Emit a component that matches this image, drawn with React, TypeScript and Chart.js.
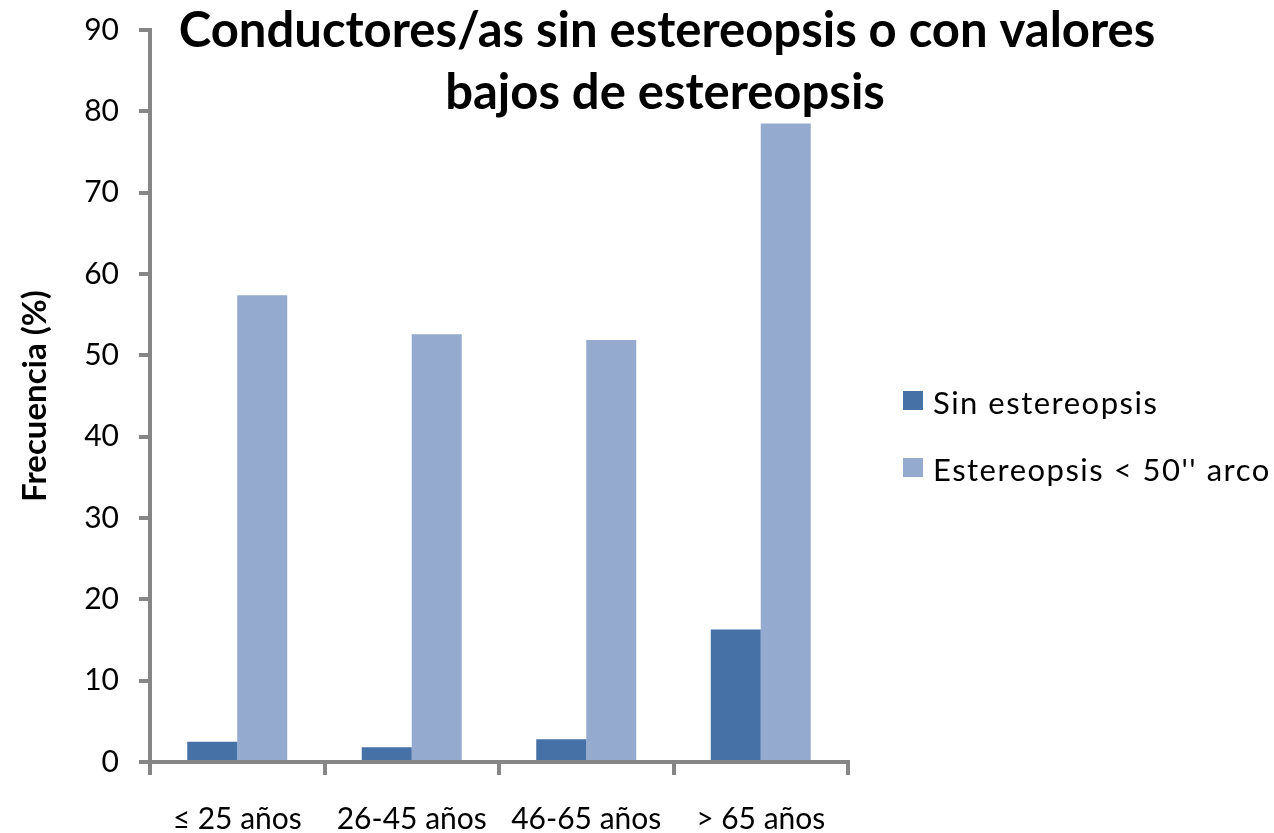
import React, { useEffect, useRef } from "react";
import { Chart, registerables } from "chart.js";

Chart.register(...registerables);

const categories = ["≤ 25 años", "26-45 años", "46-65 años", "> 65 años"];
const sinEstereopsis = [2.5, 1.8, 2.8, 16.3];
const estereopsisBaja = [57.4, 52.6, 51.9, 78.5];
const seriesNames = ["Sin estereopsis", "Estereopsis < 50'' arco"];
const seriesColors = ["#4671A7", "#95AACF"];
const titleLines = ["Conductores/as sin estereopsis o con valores", "bajos de estereopsis"];
const yAxisTitle = "Frecuencia (%)";
const yMin = 0;
const yMax = 90;
const yStep = 10;

const FONT = "Lato";
const AXIS_GREY = "#868686";

const overlayTitle = {
  id: "overlayTitle",
  afterDraw(chart: any) {
    const ctx = chart.ctx;
    ctx.save();
    ctx.font = `bold 49px ${FONT}`;
    ctx.fillStyle = "#000000";
    ctx.textAlign = "center";
    ctx.textBaseline = "alphabetic";
    ctx.fillText(titleLines[0], 667, 47);
    ctx.fillText(titleLines[1], 665, 109);
    ctx.restore();
  },
};

const sideLegend = {
  id: "sideLegend",
  afterDraw(chart: any) {
    const ctx = chart.ctx;
    const area = chart.chartArea;
    const x0 = area.right + 55;
    const rowTops = [391, 458];
    ctx.save();
    ctx.font = `31px ${FONT}`;
    try {
      (ctx as any).letterSpacing = "1.5px";
    } catch (e) {}
    ctx.textAlign = "left";
    ctx.textBaseline = "alphabetic";
    chart.data.datasets.forEach((ds: any, i: number) => {
      const top = rowTops[i];
      ctx.fillStyle = ds.backgroundColor;
      ctx.fillRect(x0, top, 20, 19);
      ctx.fillStyle = "#000000";
      ctx.fillText(ds.label, x0 + 30, top + 23);
    });
    ctx.restore();
  },
};

export default function App() {
  const canvasRef = useRef<HTMLCanvasElement | null>(null);

  useEffect(() => {
    if (!canvasRef.current) return;
    const chart = new Chart(canvasRef.current, {
      type: "bar",
      data: {
        labels: categories,
        datasets: [
          {
            label: seriesNames[0],
            data: sinEstereopsis,
            backgroundColor: seriesColors[0],
            borderWidth: 0,
          },
          {
            label: seriesNames[1],
            data: estereopsisBaja,
            backgroundColor: seriesColors[1],
            borderWidth: 0,
          },
        ],
      },
      options: {
        responsive: false,
        animation: false,
        layout: { padding: { top: 30, left: 0, right: 426, bottom: 0 } },
        datasets: { bar: { categoryPercentage: 0.573, barPercentage: 1 } },
        scales: {
          x: {
            grid: {
              display: true,
              drawOnChartArea: false,
              drawTicks: true,
              tickLength: 13,
              color: AXIS_GREY,
              lineWidth: 4,
              offset: true,
            },
            border: { display: true, color: AXIS_GREY, width: 4 },
            ticks: {
              color: "#000000",
              font: { family: FONT, size: 30 },
              padding: 26,
              maxRotation: 0,
              autoSkip: false,
            },
            afterFit: (s: any) => {
              s.height = 71;
            },
          },
          y: {
            min: yMin,
            max: yMax,
            ticks: {
              stepSize: yStep,
              color: "#000000",
              font: { family: FONT, size: 30, lineHeight: 0.5 },
              padding: 20,
            },
            grid: {
              drawOnChartArea: false,
              drawTicks: true,
              tickLength: 11,
              color: AXIS_GREY,
              lineWidth: 4,
            },
            border: { display: true, color: AXIS_GREY, width: 4 },
            title: {
              display: true,
              text: yAxisTitle,
              color: "#000000",
              font: { family: FONT, size: 33, weight: "bold" },
              padding: { top: 16, bottom: 0 },
            },
            afterFit: (s: any) => {
              s.width = 150;
            },
          },
        },
        plugins: {
          tooltip: { enabled: false },
          title: { display: false },
          legend: { display: false },
        },
      },
      plugins: [overlayTitle, sideLegend],
    });
    return () => chart.destroy();
  }, []);

  return (
    <div style={{ position: "absolute", left: 0, top: 0, width: 1274, height: 833, background: "#ffffff" }}>
      <canvas ref={canvasRef} width={1274} height={833} style={{ display: "block" }} />
    </div>
  );
}
